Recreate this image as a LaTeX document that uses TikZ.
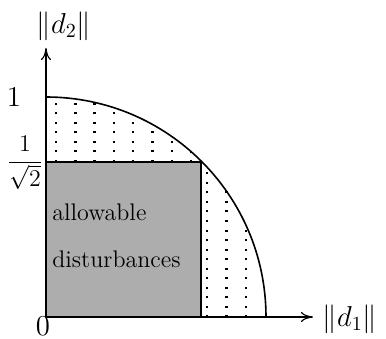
\documentclass[tikz,border=0pt]{standalone}
\usetikzlibrary{arrows.meta}
\begin{document}
\begin{tikzpicture}[x=0.5pt,y=0.5pt,
  axis/.style={line width=0.6pt,-{To[length=6pt,width=5pt]}},
  curve/.style={line width=0.8pt},
  dotcol/.style={line width=1.2pt,dash pattern=on 1pt off 3.75pt},
  lbl/.style={font=\fontsize{14.4}{17}\selectfont,inner sep=0pt},
  num/.style={font=\fontsize{14.4}{17}\selectfont,inner sep=0pt},
  frc/.style={font=\fontsize{12}{14}\selectfont,inner sep=0pt},
  txt/.style={font=\fontsize{12}{14}\selectfont,inner sep=0pt,anchor=base west}]
\useasboundingbox (0,0) rectangle (386,338);
\coordinate (O) at (46,21);
% shaded square
\fill[black!32] (46,21) rectangle (201,176);
\draw[line width=0.6pt] (46,176) -- (201,176) -- (201,21);
% dotted columns above square
\foreach \x in {56,75.3,94.6,113.9,133.2,152.5,171.8,191.1}{
  \pgfmathsetmacro{\yt}{21+220*sqrt(1-((\x-46)/220)^2)}
  \draw[dotcol] (\x,176) -- (\x,\yt);
}
% dotted columns right of square
\foreach \x in {207,226.5,246}{
  \pgfmathsetmacro{\yt}{21+220*sqrt(1-((\x-46)/220)^2)}
  \draw[dotcol] (\x,21) -- (\x,\yt);
}
% arc
\draw[curve] (46,241) arc[start angle=90,end angle=0,radius=220];
% axes
\coordinate (xe) at (313,21);
\coordinate (ye) at (46,290);
\draw[axis] (O) -- (xe);
\draw[axis] (O) -- (ye);
% labels
\node[lbl] (d1) at (350,19) {$\|d_1\|$};
\node[lbl] (d2) at (64,312) {$\|d_2\|$};
\node[num] (one) at (14,241) {$1$};
\node[frc] (isq) at (25,175) {$\displaystyle\frac{1}{\sqrt{2}}$};
\node[num] (zero) at (43,12) {$0$};
\node[txt] (t1) at (52,118) {allowable};
\node[txt] (t2) at (52,70) {disturbances};
\end{tikzpicture}
\end{document}
